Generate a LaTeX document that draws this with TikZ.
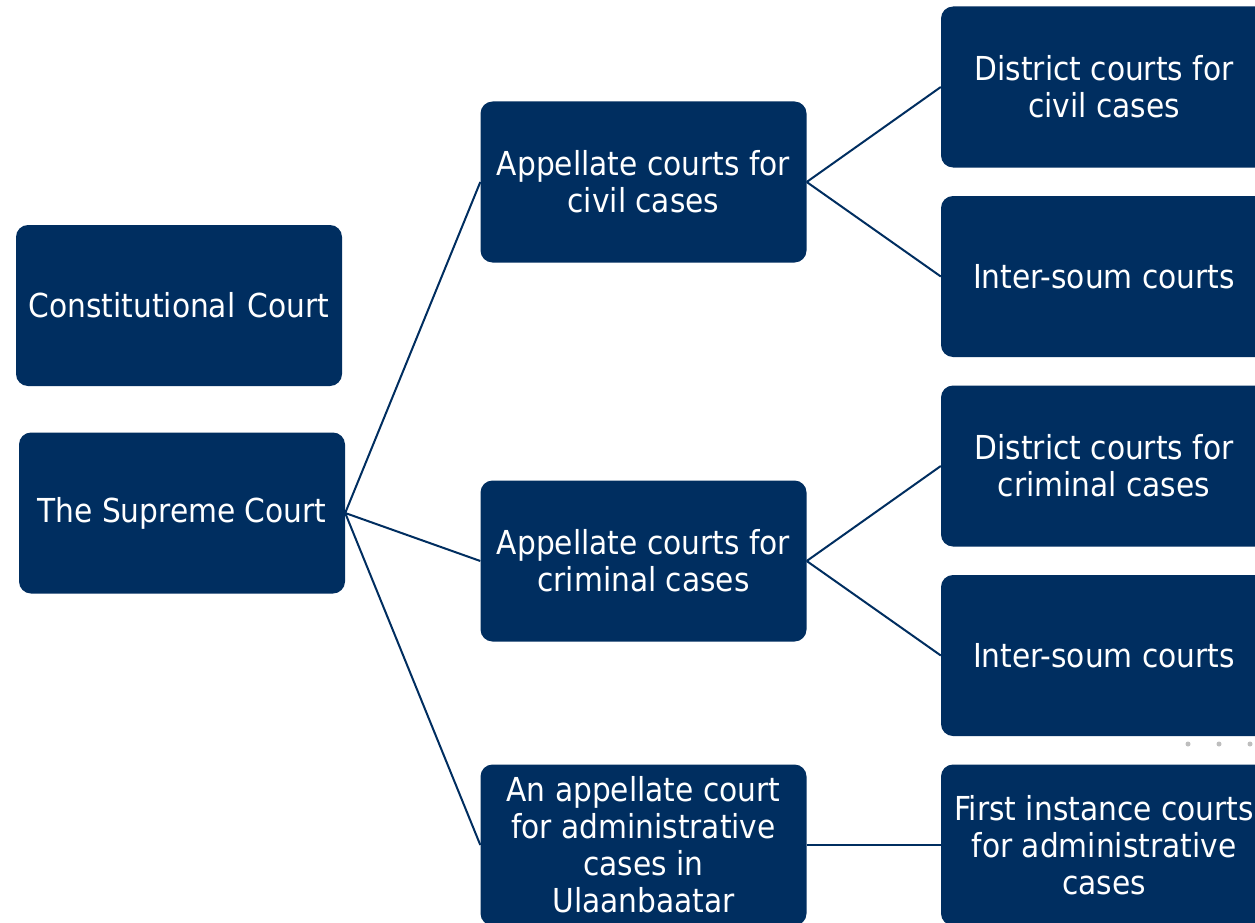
\documentclass[tikz,border=0pt]{standalone}
\usepackage{fontspec}
\setmainfont{DejaVu Sans Condensed}
\definecolor{navy}{RGB}{0,46,96}
\definecolor{dotgray}{RGB}{190,190,190}
\tikzset{
  court/.style={fill=navy, draw=none, rounded corners=12pt, minimum width=326pt, minimum height=161pt,
    inner sep=0pt, text=white, align=center, font=\fontsize{33}{37}\selectfont},
  link/.style={draw=navy, line width=2pt}
}
\begin{document}
\begin{tikzpicture}[x=1pt,y=-1pt]
\useasboundingbox[fill=white] (0,0) rectangle (1255,923);
\node[court] (const) at (179,305.5) {Constitutional\hspace{3pt} Court};
\node[court] (sc) at (182,513) {The Supreme Court};
\node[court] (ac) at (643.5,182) {Appellate courts for\\civil cases};
\node[court] (acr) at (643.5,561) {Appellate courts for\\criminal cases};
\node[court] (aad) at (643.5,845) {An appellate court\\for administrative\\cases in\\Ulaanbaatar};
\node[court] (dc) at (1104,87) {District courts for\\civil cases};
\node[court] (is1) at (1104,276.5) {Inter-soum courts};
\node[court] (dcr) at (1104,466) {District courts for\\criminal cases};
\node[court] (is2) at (1104,655.5) {Inter-soum courts};
\node[court] (fi) at (1104,845) {First instance courts\\for administrative\\cases};
\draw[link] (sc.east) -- (ac.west);
\draw[link] (sc.east) -- (acr.west);
\draw[link] (sc.east) -- (aad.west);
\draw[link] (ac.east) -- (dc.west);
\draw[link] (ac.east) -- (is1.west);
\draw[link] (acr.east) -- (dcr.west);
\draw[link] (acr.east) -- (is2.west);
\draw[link] (aad.east) -- (fi.west);
\foreach \i/\xx in {d1/1188,d2/1219,d3/1250}
  \fill[dotgray] (\xx,744) circle (2.5pt);
\end{tikzpicture}
\end{document}
